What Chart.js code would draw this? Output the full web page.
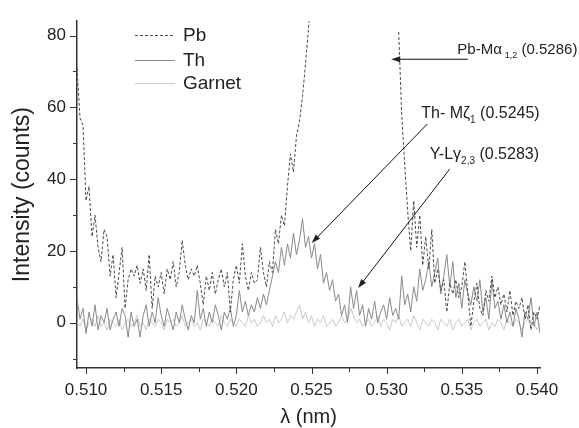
<!DOCTYPE html>
<html>
<head>
<meta charset="utf-8">
<script src="https://cdn.jsdelivr.net/npm/chart.js@4.4.0/dist/chart.umd.min.js"></script>
<style>
  html, body { margin: 0; padding: 0; background: #fff; }
</style>
</head>
<body>
<canvas id="spectrum" width="579" height="428"></canvas>
<script>
// wavelength (nm)
const wavelength = [
  0.5094,0.5096,0.5098,0.5100,0.5102,0.5104,0.5106,0.5108,0.5110,0.5112,
  0.5114,0.5116,0.5118,0.5120,0.5122,0.5124,0.5126,0.5128,0.5130,0.5132,
  0.5134,0.5136,0.5138,0.5140,0.5142,0.5144,0.5146,0.5148,0.5150,0.5152,
  0.5154,0.5156,0.5158,0.5160,0.5162,0.5164,0.5166,0.5168,0.5170,0.5172,
  0.5174,0.5176,0.5178,0.5180,0.5182,0.5184,0.5186,0.5188,0.5190,0.5192,
  0.5194,0.5196,0.5198,0.5200,0.5202,0.5204,0.5206,0.5208,0.5210,0.5212,
  0.5214,0.5216,0.5218,0.5220,0.5222,0.5224,0.5226,0.5228,0.5230,0.5232,
  0.5234,0.5236,0.5238,0.5240,0.5242,0.5244,0.5246,0.5248,0.5250,0.5252,
  0.5254,0.5256,0.5258,0.5260,0.5262,0.5264,0.5266,0.5268,0.5270,0.5272,
  0.5274,0.5276,0.5278,0.5280,0.5282,0.5284,0.5286,0.5288,0.5290,0.5292,
  0.5294,0.5296,0.5298,0.5300,0.5302,0.5304,0.5306,0.5308,0.5310,0.5312,
  0.5314,0.5316,0.5318,0.5320,0.5322,0.5324,0.5326,0.5328,0.5330,0.5332,
  0.5334,0.5336,0.5338,0.5340,0.5342,0.5344,0.5346,0.5348,0.5350,0.5352,
  0.5354,0.5356,0.5358,0.5360,0.5362,0.5364,0.5366,0.5368,0.5370,0.5372,
  0.5374,0.5376,0.5378,0.5380,0.5382,0.5384,0.5386,0.5388,0.5390,0.5392,
  0.5394,0.5396,0.5398,0.5400,0.5402
];

// counts; Pb goes off scale around the Pb-M line, no trace shown there
const pb = [
  71,57,55,34,38,24,30,21,17,26,
  24,13,19,7,14,21,4,12,15,13,
  16,11,15,9,19,4,13,10,14,8,
  15,12,17,10,14,23,16,12,15,13,
  16,11,5,13,9,14,8,12,15,10,
  14,3,12,16,11,22,13,9,14,11,
  12,21,14,10,17,14,26,22,30,27,
  38,47,42,52,56,63,72,82,95,null,
  null,null,null,null,null,null,null,null,null,null,
  null,null,null,null,null,null,null,null,null,null,
  null,null,null,null,null,null,null,81,58,44,
  31,20,34,21,30,16,24,15,26,11,
  15,9,12,3,11,8,12,7,10,17,
  8,-1,6,11,4,2,9,6,13,7,
  10,5,8,3,9,2,6,4,7,1,
  5,-2,3,1,5
];

const th = [
  7,1,4,-3,3,-1,5,-2,2,0,
  4,-2,1,3,-1,4,2,-4,3,-1,
  1,-4,2,5,-1,3,0,7,2,-1,
  4,1,-2,3,0,5,1,-2,2,0,
  9,1,4,-1,3,0,5,2,-2,3,
  1,4,-1,2,9,3,6,2,5,3,
  7,4,8,5,9,13,17,14,21,16,
  22,18,25,19,23,29,21,24,18,22,
  15,19,11,14,9,12,6,8,2,5,
  0,10,4,9,2,5,-1,4,1,6,
  0,3,5,1,7,2,4,1,13,5,
  8,3,10,6,15,9,12,17,10,14,
  18,8,13,19,10,17,7,11,4,12,
  8,5,10,6,12,3,7,1,12,4,
  6,1,5,0,3,-1,4,1,-4,3,
  1,7,-1,3,-3
];

const garnet = [
  0,-1,1,-2,0,1,-1,2,-1,0,
  -2,1,0,-1,1,-2,0,1,-1,0,
  2,-1,0,-2,1,0,-1,1,0,-2,
  1,0,1,-1,0,2,-1,0,1,-1,
  0,-2,1,0,-1,1,0,-1,2,0,
  -1,1,0,-1,1,0,-1,2,0,1,
  -1,0,2,0,1,-1,2,0,1,3,
  0,2,1,3,5,1,3,0,2,-1,
  1,0,2,-1,0,1,-1,0,2,0,
  1,4,2,0,1,-1,0,1,-1,0,
  2,-1,1,0,-2,1,0,2,-1,0,
  1,-1,2,0,-2,1,0,-1,1,0,
  -2,1,0,-1,1,-2,0,1,-1,0,
  1,-2,0,1,-1,0,1,-2,0,-1,
  1,0,-2,1,0,-1,1,0,-2,0,
  1,-1,0,-2,0
];

const xTicks = [0.510, 0.515, 0.520, 0.525, 0.530, 0.535, 0.540];
const xMinor = [0.5125, 0.5175, 0.5225, 0.5275, 0.5325, 0.5375];
const yTicks = [0, 20, 40, 60, 80];
const yMinor = [-10, 10, 30, 50, 70];

const FONT = "'Liberation Sans', Arial, Helvetica, sans-serif";
const INK = "#222";

// line labels with arrows (data coordinates)
const notes = [
  { parts: [{t: "Pb-M\u03B1"}, {t: "1,2", sub: true, gap: 3}, {t: " (0.5286)"}], size: 15,
    at: [0.5347, 75], from: [0.5354, 73.4], to: [0.5303, 73.4] },
  { parts: [{t: "Th- M\u03B6"}, {t: "1", sub: true}, {t: " (0.5245)"}], size: 16,
    at: [0.5323, 57], from: [0.53271, 55.4], to: [0.52501, 22.2] },
  { parts: [{t: "Y-L\u03B3"}, {t: "2,3", sub: true}, {t: " (0.5283)"}], size: 16,
    at: [0.53286, 45.5], from: [0.53419, 42.8], to: [0.5281, 9.7] }
];

function pts(values) {
  return values.map((v, i) => ({x: wavelength[i], y: v}));
}

function drawRich(ctx, parts, x, y, size) {
  let cx = x;
  parts.forEach(p => {
    const s = p.sub ? Math.round(size * 0.62) : size;
    cx += p.gap || 0;
    ctx.font = s + "px " + FONT;
    ctx.fillText(p.t, cx, p.sub ? y + size * 0.3 : y);
    cx += ctx.measureText(p.t).width;
  });
}

function arrow(ctx, x1, y1, x2, y2) {
  const a = Math.atan2(y2 - y1, x2 - x1);
  const len = 9, w = 3;
  ctx.beginPath();
  ctx.moveTo(x1, y1);
  ctx.lineTo(x2 - Math.cos(a) * len * 0.7, y2 - Math.sin(a) * len * 0.7);
  ctx.stroke();
  ctx.beginPath();
  ctx.moveTo(x2, y2);
  ctx.lineTo(x2 - len * Math.cos(a) + w * Math.sin(a), y2 - len * Math.sin(a) - w * Math.cos(a));
  ctx.lineTo(x2 - len * Math.cos(a) - w * Math.sin(a), y2 - len * Math.sin(a) + w * Math.cos(a));
  ctx.closePath();
  ctx.fill();
}

const extras = {
  id: "extras",
  afterDraw(chart) {
    const ctx = chart.ctx;
    const xs = chart.scales.x, ys = chart.scales.y;
    const area = chart.chartArea;
    ctx.save();

    // tick marks, outside
    ctx.strokeStyle = "#333";
    ctx.lineWidth = 1;
    ctx.beginPath();
    yTicks.forEach(v => { const p = Math.round(ys.getPixelForValue(v)) + 0.5; ctx.moveTo(area.left - 7, p); ctx.lineTo(area.left, p); });
    yMinor.forEach(v => { const p = Math.round(ys.getPixelForValue(v)) + 0.5; ctx.moveTo(area.left - 4, p); ctx.lineTo(area.left, p); });
    xTicks.forEach(v => { const p = Math.round(xs.getPixelForValue(v)) + 0.5; ctx.moveTo(p, area.bottom); ctx.lineTo(p, area.bottom + 6); });
    xMinor.forEach(v => { const p = Math.round(xs.getPixelForValue(v)) + 0.5; ctx.moveTo(p, area.bottom); ctx.lineTo(p, area.bottom + 4); });
    ctx.stroke();

    // legend
    const series = chart.data.datasets;
    const ly = [35, 60, 83];
    series.forEach((ds, i) => {
      ctx.strokeStyle = ds.borderColor;
      ctx.lineWidth = 1;
      ctx.setLineDash(ds.borderDash || []);
      ctx.beginPath();
      ctx.moveTo(area.left + 58, ly[i] + 0.5);
      ctx.lineTo(area.left + 98, ly[i] + 0.5);
      ctx.stroke();
      ctx.setLineDash([]);
      ctx.fillStyle = INK;
      ctx.font = "19px " + FONT;
      ctx.textBaseline = "middle";
      ctx.fillText(ds.label, area.left + 106, ly[i] + 1);
    });

    // annotations
    ctx.textBaseline = "alphabetic";
    ctx.fillStyle = INK;
    ctx.strokeStyle = "#111";
    ctx.lineWidth = 1;
    notes.forEach(n => {
      drawRich(ctx, n.parts, xs.getPixelForValue(n.at[0]), ys.getPixelForValue(n.at[1]), n.size);
      arrow(ctx, xs.getPixelForValue(n.from[0]), ys.getPixelForValue(n.from[1]),
                 xs.getPixelForValue(n.to[0]), ys.getPixelForValue(n.to[1]));
    });
    ctx.restore();
  }
};

const config = {
  type: "line",
  data: {
    datasets: [
      { label: "Pb", data: pts(pb), borderColor: "#4a4a4a", borderWidth: 1, borderDash: [3, 2], pointRadius: 0, tension: 0, spanGaps: false },
      { label: "Th", data: pts(th), borderColor: "#8a8a8a", borderWidth: 1, pointRadius: 0, tension: 0 },
      { label: "Garnet", data: pts(garnet), borderColor: "#c9c9c9", borderWidth: 1, pointRadius: 0, tension: 0 }
    ]
  },
  options: {
    responsive: false,
    animation: false,
    layout: { padding: { left: 0, right: 39, top: 15, bottom: 0 } },
    plugins: { legend: { display: false }, tooltip: { enabled: false } },
    scales: {
      x: {
        type: "linear",
        min: 0.5094,
        max: 0.5402,
        afterBuildTicks: s => { s.ticks = xTicks.map(v => ({value: v})); },
        afterFit: s => { s.height = 60; },
        grid: { display: false, drawTicks: false },
        border: { display: true, color: "#333", width: 1.5 },
        ticks: { color: INK, font: { family: FONT, size: 17 }, padding: 12, maxRotation: 0,
                 callback: v => v.toFixed(3) },
        title: { display: true, text: "\u03BB (nm)", color: INK, font: { family: FONT, size: 20, lineHeight: 1 }, padding: { top: 0, bottom: 1 } }
      },
      y: {
        min: -12.6,
        max: 84,
        afterBuildTicks: s => { s.ticks = yTicks.map(v => ({value: v})); },
        afterFit: s => { s.width = 77; },
        grid: { display: false, drawTicks: false },
        border: { display: true, color: "#333", width: 1.5 },
        ticks: { color: INK, font: { family: FONT, size: 17 }, padding: 11 },
        title: { display: true, text: "Intensity (counts)", color: INK, font: { family: FONT, size: 23, lineHeight: 1.2 }, padding: { top: 9, bottom: 0 } }
      }
    }
  },
  plugins: [extras]
};

let spectrumChart = new Chart(document.getElementById("spectrum"), config);
</script>
</body>
</html>
